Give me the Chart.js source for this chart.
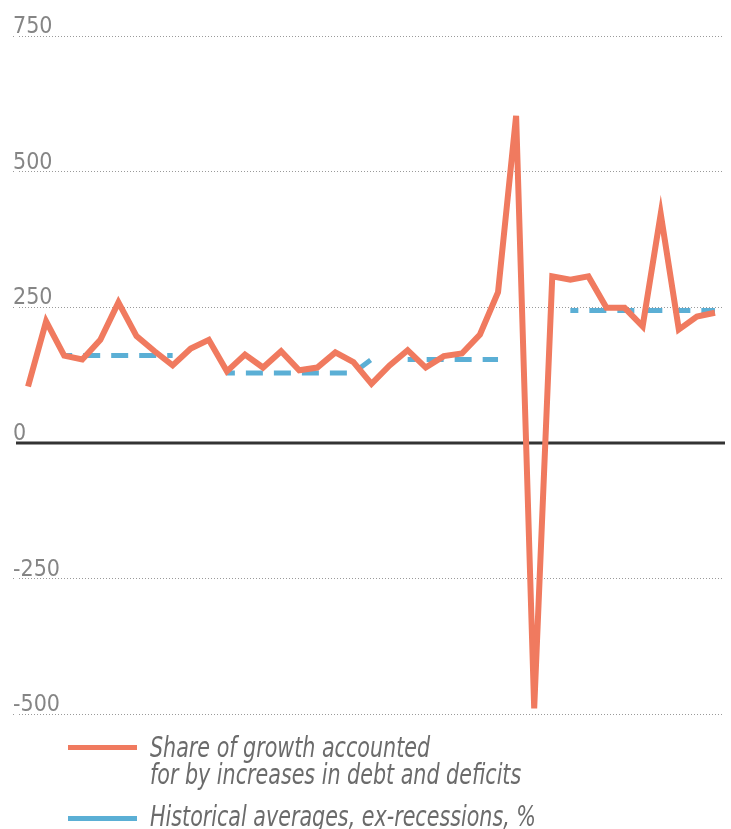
<!DOCTYPE html>
<html>
<head>
<meta charset="utf-8">
<script src="https://cdn.jsdelivr.net/npm/chart.js@4/dist/chart.umd.min.js"></script>
<style>
  html, body { margin: 0; padding: 0; background: #fff; }
  #wrap { position: relative; width: 731px; height: 829px; overflow: hidden; }
  #c { position: absolute; left: 0; top: 0; }
  .legline { position: absolute; left: 68px; width: 69px; height: 5px; }
  .legtext { position: absolute; left: 150px; font-family: "Liberation Sans Narrow", "DejaVu Sans Condensed", sans-serif;
    font-style: italic; font-size: 28px; line-height: 27px; color: #6b6b6b; white-space: nowrap;
    transform: scaleX(0.82); transform-origin: 0 0; }
</style>
</head>
<body>
<div id="wrap">
  <canvas id="c" width="731" height="829"></canvas>
  <div class="legline" style="top:744.5px;background:#F07A5F"></div>
  <div class="legtext" id="leg1" style="top:734px"></div>
  <div class="legline" style="top:815.5px;background:#5BAFD5"></div>
  <div class="legtext" id="leg2" style="top:803px"></div>
</div>
<script>
// Years (x categories)
const years = [1981,1982,1983,1984,1985,1986,1987,1988,1989,1990,1991,1992,1993,1994,1995,1996,1997,1998,1999,2000,
               2001,2002,2003,2004,2005,2006,2007,2008,2009,2010,2011,2012,2013,2014,2015,2016,2017,2018,2019];

// Share of growth accounted for by increases in debt and deficits
const shareOfGrowth = [104,224,161,154,190,259,197,169,143,174,190,132,163,139,169,134,139,167,149,109,
                       143,171,139,160,165,200,278,603,-489,307,301,307,249,249,215,422,209,233,240];

// Historical averages, ex-recessions, % (null = recession years)
const historicalAvg = [null,null,161,161,161,161,161,161,161,null,null,129,129,129,129,129,129,129,129,154,
                       null,154,154,154,154,154,154,null,null,null,244,244,244,244,244,244,244,244,244];

// Y axis ticks
const yTicks = [-500,-250,0,250,500,750];

const legendLabels = [["Share of growth accounted", "for by increases in debt and deficits"],
                      ["Historical averages, ex-recessions, %"]];

document.getElementById('leg1').innerHTML = legendLabels[0].join('<br>');
document.getElementById('leg2').innerHTML = legendLabels[1].join('<br>');

const ORANGE = '#F07A5F';
const BLUE = '#5BAFD5';
const FONT = '"Liberation Sans Narrow", "DejaVu Sans Condensed", sans-serif';

const zeroLine = {
  id: 'zeroLine',
  beforeDatasetsDraw(chart) {
    const y = chart.scales.y.getPixelForValue(0);
    const ctx = chart.ctx;
    ctx.save();
    ctx.strokeStyle = '#333333';
    ctx.lineWidth = 3;
    ctx.beginPath();
    ctx.moveTo(chart.chartArea.left - 3, y);
    ctx.lineTo(chart.chartArea.right + 1, y);
    ctx.stroke();
    ctx.restore();
  }
};

new Chart(document.getElementById('c'), {
  type: 'line',
  data: {
    labels: years,
    datasets: [
      {
        label: legendLabels[0].join(' '),
        data: shareOfGrowth,
        borderColor: ORANGE,
        borderWidth: 6,
        pointRadius: 0,
        tension: 0,
        fill: false
      },
      {
        label: legendLabels[1].join(' '),
        data: historicalAvg,
        borderColor: BLUE,
        borderWidth: 5,
        borderDash: [17, 11],
        borderDashOffset: 9,
        borderCapStyle: 'butt',
        pointRadius: 0,
        spanGaps: false,
        tension: 0,
        fill: false
      }
    ]
  },
  options: {
    responsive: false,
    animation: false,
    events: [],
    layout: { padding: { top: 36, bottom: 114.7, left: 19, right: 7 } },
    plugins: { legend: { display: false }, tooltip: { enabled: false } },
    scales: {
      x: {
        type: 'category',
        offset: true,
        display: false
      },
      y: {
        min: -500,
        max: 750,
        afterBuildTicks(scale) { scale.ticks = yTicks.map(v => ({ value: v })); },
        border: { display: false, dash: [1, 2] },
        grid: {
          drawTicks: true,
          tickLength: 3,
          tickBorderDash: [1, 2],
          lineWidth: 1,
          color: (c) => (c.tick && c.tick.value === 0) ? 'rgba(0,0,0,0)' : '#9a9a9a',
          tickColor: (c) => (c.tick && c.tick.value === 0) ? 'rgba(0,0,0,0)' : '#9a9a9a'
        },
        ticks: {
          mirror: true,
          padding: -3,
          labelOffset: -9,
          color: '#858585',
          font: { family: FONT, size: 23 },
          callback: (v) => String(v)
        }
      }
    }
  },
  plugins: [zeroLine]
});
</script>
</body>
</html>
